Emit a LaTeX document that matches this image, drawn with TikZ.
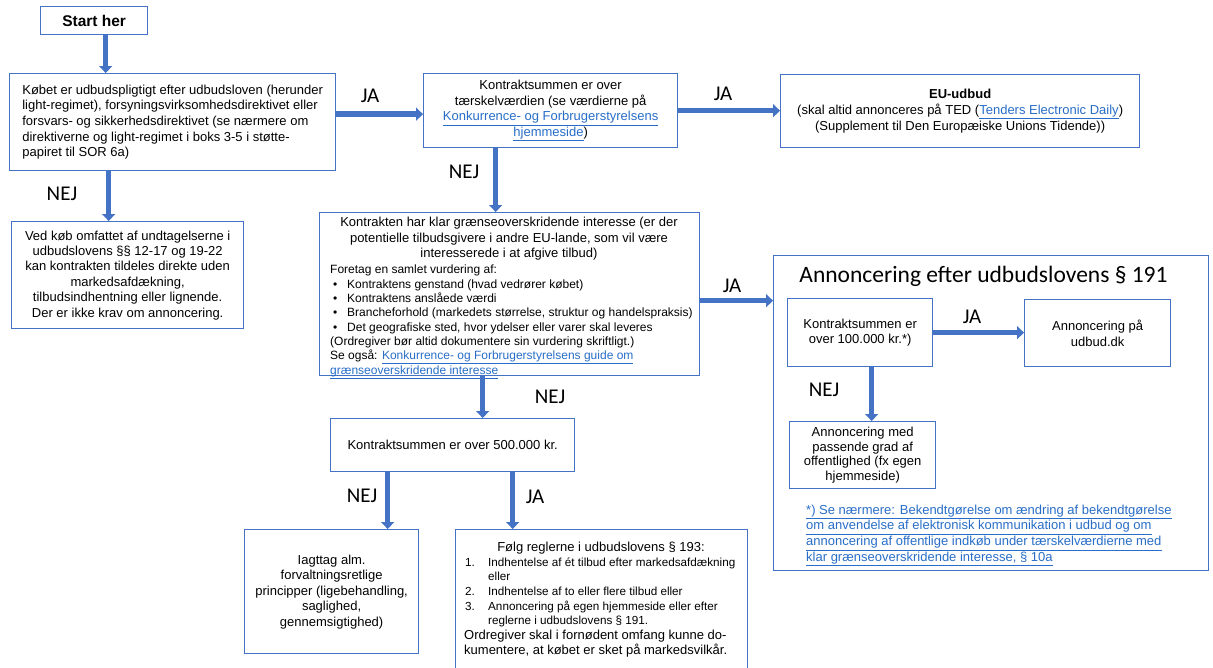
\documentclass[tikz,border=0pt]{standalone}
\usepackage{fontspec}
\setmainfont{Liberation Sans}
\newfontfamily\calfont{Carlito}
\usetikzlibrary{arrows.meta}
\definecolor{boxblue}{RGB}{68,114,196}
\definecolor{arrowblue}{RGB}{68,114,196}
\definecolor{linkblue}{RGB}{40,110,200}
\newcommand\lnk[1]{\textcolor{linkblue}{\underline{#1}}}
\newcommand\fs[2]{\fontsize{#1}{#2}\selectfont}
\newcommand\bul{\hspace*{3pt}\makebox[14pt][l]{•}}
\newcommand\num[1]{\makebox[23pt][l]{#1}}
\begin{document}
\begin{tikzpicture}[x=1pt,y=-1pt,
  box/.style={draw=boxblue,line width=1.3pt,fill=white,inner sep=0pt,anchor=north west,font=\fs{13}{15.6}},
  txt/.style={inner sep=0pt},
  arr/.style={draw=arrowblue,line width=5.5pt,-{Triangle[width=13pt,length=7pt]}},
  lab/.style={inner sep=0pt,font=\calfont\fs{21}{25}}
]
\useasboundingbox (0,0) rectangle (1213,667);

% boxes
\node[box,minimum width=107pt,minimum height=28pt,font=\bfseries\fs{15.5}{18}] (start) at (40,6) {Start her};
\node[box,minimum width=326pt,minimum height=97pt,align=left] (b1) at (9,73)
 {Købet er udbudspligtigt efter udbudsloven (herunder\\light-regimet), forsyningsvirksomhedsdirektivet eller\\forsvars- og sikkerhedsdirektivet (se nærmere om\\direktiverne og light-regimet i boks 3-5 i støtte-\\papiret til SOR 6a)};
\node[box,minimum width=254pt,minimum height=74pt,align=center] (b2) at (423,73)
 {Kontraktsummen er over\\tærskelværdien (se værdierne på\\\lnk{Konkurrence- og Forbrugerstyrelsens}\\\lnk{hjemmeside})};
\node[box,minimum width=359pt,minimum height=73pt,align=center] (b3) at (780,74)
 {\textbf{EU-udbud}\\(skal altid annonceres på TED (\lnk{Tenders Electronic Daily})\\(Supplement til Den Europæiske Unions Tidende))};
\node[box,minimum width=232pt,minimum height=107pt,align=center,font=\fs{13}{15.4}] (b5) at (11,221)
 {Ved køb omfattet af undtagelserne i\\udbudslovens §§ 12-17 og 19-22\\kan kontrakten tildeles direkte uden\\markedsafdækning,\\tilbudsindhentning eller lignende.\\Der er ikke krav om annoncering.};

\node[box,minimum width=380pt,minimum height=163pt] (b4) at (319,212) {};
\node[txt,anchor=north,align=center,font=\fs{13}{15.5}] (b4h) at (509,217)
 {Kontrakten har klar grænseoverskridende interesse (er der\\potentielle tilbudsgivere i andre EU-lande, som vil være\\interesserede i at afgive tilbud)};
\node[txt,anchor=north west,align=left,font=\fs{12}{14.3}] (b4l) at (330,265)
 {Foretag en samlet vurdering af:\\
  \bul Kontraktens genstand (hvad vedrører købet)\\
  \bul Kontraktens anslåede værdi\\
  \bul Brancheforhold (markedets størrelse, struktur og handelspraksis)\\
  \bul Det geografiske sted, hvor ydelser eller varer skal leveres\\
  (Ordregiver bør altid dokumentere sin vurdering skriftligt.)\\
  Se også: \lnk{Konkurrence- og Forbrugerstyrelsens guide om}\\
  \lnk{grænseoverskridende interesse}};

\node[box,minimum width=435pt,minimum height=315pt] (b6) at (773,255) {};
\node[txt,font=\calfont\fs{23.5}{28}] (b6t) at (983.5,276.5) {Annoncering efter udbudslovens § 191};
\node[box,minimum width=145pt,minimum height=68pt,align=center] (bA) at (787,298) {Kontraktsummen er\\over 100.000 kr.*)};
\node[box,minimum width=146pt,minimum height=67pt,align=center] (bB) at (1024,299) {Annoncering på\\udbud.dk};
\node[box,minimum width=146pt,minimum height=67pt,align=center,font=\fs{13}{14.8}] (bC) at (789,421)
 {Annoncering med\\passende grad af\\offentlighed (fx egen\\hjemmeside)};
\node[txt,anchor=north west,align=left,font=\fs{13}{15.8}] (fn) at (806,504.5)
 {\lnk{*) Se nærmere: Bekendtgørelse om ændring af bekendtgørelse}\\
  \lnk{om anvendelse af elektronisk kommunikation i udbud og om}\\
  \lnk{annoncering af offentlige indkøb under tærskelværdierne med}\\
  \lnk{klar grænseoverskridende interesse, § 10a}};

\node[box,minimum width=244pt,minimum height=53pt] (b7) at (330,418) {Kontraktsummen er over 500.000 kr.};
\node[box,minimum width=174pt,minimum height=124pt,align=center,font=\fs{13}{15.5}] (b8) at (244,529)
 {Iagttag alm.\\forvaltningsretlige\\principper (ligebehandling,\\saglighed,\\gennemsigtighed)};
\node[box,minimum width=292pt,minimum height=145pt] (b9) at (455,529) {};
\node[txt,anchor=north,font=\fs{13}{15}] (b9h) at (601,541.5) {Følg reglerne i udbudslovens § 193:};
\node[txt,anchor=north west,align=left,font=\fs{11.7}{14.6}] (b9l) at (465,557.5)
 {\num{1.}Indhentelse af ét tilbud efter markedsafdækning\\
  \num{}eller\\
  \num{2.}Indhentelse af to eller flere tilbud eller\\
  \num{3.}Annoncering på egen hjemmeside eller efter\\
  \num{}reglerne i udbudslovens § 191.};
\node[txt,anchor=north west,align=left,font=\fs{13}{15}] (b9e) at (464,630)
 {Ordregiver skal i fornødent omfang kunne do-\\kumentere, at købet er sket på markedsvilkår.};

% arrows
\draw[arr] ([xshift=11.5pt]start.south) -- ([xshift=11.5pt]start.south |- b1.north);
\draw[arr] ([yshift=8pt]b1.east) -- ([yshift=8pt]b1.east -| b2.west);
\draw[arr] (b2.east) -- (b2.east -| b3.west);
\draw[arr] ([xshift=-55pt]b2.south) -- ([xshift=-55pt]b2.south |- b4.north);
\draw[arr] ([xshift=-64pt]b1.south) -- ([xshift=-64pt]b1.south |- b5.north);
\draw[arr] ([yshift=-6.5pt]b4.east) -- ([yshift=-6.5pt]b4.east -| b6.west);
\draw[arr] ([xshift=-27pt]b4.south) -- ([xshift=-27pt]b4.south |- b7.north);
\draw[arr] ([xshift=-65pt]b7.south) -- ([xshift=-65pt]b7.south |- b8.north);
\draw[arr] ([xshift=60pt]b7.south) -- ([xshift=60pt]b7.south |- b9.north);
\draw[arr] (bA.east) -- (bA.east -| bB.west);
\draw[arr] ([xshift=11.5pt]bA.south) -- ([xshift=11.5pt]bA.south |- bC.north);

% labels
\node[lab] (l1) at (370,96) {JA};
\node[lab] (l2) at (723,94) {JA};
\node[lab] (l3) at (464,172) {NEJ};
\node[lab] (l4) at (62,194) {NEJ};
\node[lab] (l5) at (732,286) {JA};
\node[lab] (l6) at (972,317) {JA};
\node[lab] (l7) at (824,390) {NEJ};
\node[lab] (l8) at (550,397) {NEJ};
\node[lab] (l9) at (362,496) {NEJ};
\node[lab] (l10) at (535,497) {JA};
\end{tikzpicture}
\end{document}
